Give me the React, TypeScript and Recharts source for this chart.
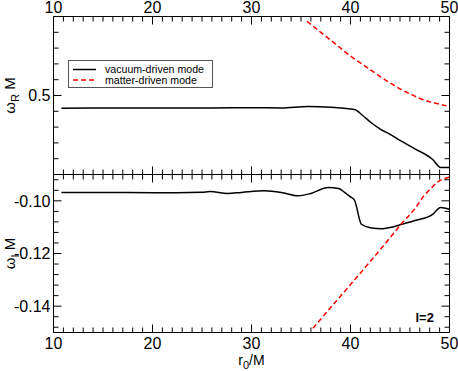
import { LineChart, Line, XAxis, YAxis, Label } from "recharts";

// r0/M axis
const rMajor = [10, 20, 30, 40, 50];
const rTicks = Array.from({ length: 41 }, (_, i) => 10 + i);

// omega_R M axis (top panel)
const wrMajor = [0.4, 0.5, 0.6];
const wrLabeled = [0.5];
const wrTicks = Array.from({ length: 11 }, (_, i) => +(0.4 + i * 0.02).toFixed(3));

// omega_I M axis (bottom panel)
const wiMajor = [-0.14, -0.12, -0.1];
const wiLabeled = [-0.14, -0.12, -0.1];
const wiTicks = Array.from({ length: 15 }, (_, i) => +(-0.148 + i * 0.004).toFixed(3));

// vacuum-driven mode, real part
const vacRealR = [10.8, 14, 18, 22, 26, 30, 33, 35.7, 38, 40.4, 41.2, 42, 43, 44, 45.1, 46.5, 48.3, 49.1, 50];
const vacRealW = [0.484, 0.4842, 0.4842, 0.4843, 0.4842, 0.4845, 0.4842, 0.4862, 0.4852, 0.4822, 0.475, 0.4665, 0.4575, 0.4508, 0.4425, 0.4325, 0.419, 0.409, 0.409];

// matter-driven mode, real part
const matRealR = [35.6, 37, 38.5, 40, 41.5, 43, 44.5, 46, 47.5, 49, 50];
const matRealW = [0.594, 0.58, 0.565, 0.55, 0.537, 0.524, 0.512, 0.502, 0.494, 0.489, 0.486];

// vacuum-driven mode, imaginary part
const vacImagR = [10.8, 15, 20, 25, 25.8, 27.6, 29, 31.3, 33, 34.7, 36, 37.75, 38.8, 39.4, 40, 40.4, 41.1, 42, 43.2, 44, 45.2, 46.5, 48.3, 49.1, 50];
const vacImagW = [-0.0968, -0.0968, -0.0969, -0.0967, -0.0965, -0.0972, -0.0968, -0.0962, -0.0968, -0.0981, -0.0972, -0.0949, -0.0953, -0.0968, -0.0985, -0.0997, -0.1089, -0.1102, -0.1106, -0.1101, -0.1089, -0.1075, -0.1051, -0.1025, -0.1032];

// matter-driven mode, imaginary part
const matImagR = [36.2, 38, 40, 42, 44, 45.1, 46.5, 47.4, 48.2, 48.75, 49.3, 50];
const matImagW = [-0.1484, -0.1405, -0.1318, -0.123, -0.114, -0.1089, -0.103, -0.0982, -0.095, -0.093, -0.0918, -0.091];

const zip = (xs: number[], ys: number[]) => xs.map((r, i) => ({ r, w: ys[i] }));
const vacReal = zip(vacRealR, vacRealW);
const matReal = zip(matRealR, matRealW);
const vacImag = zip(vacImagR, vacImagW);
const matImag = zip(matImagR, matImagW);

const FONT = "'Liberation Sans', Arial, Helvetica, sans-serif";
const has = (arr: number[], v: number) => arr.some((m) => Math.abs(m - v) < 1e-9);

type Side = "top" | "bottom" | "left" | "right";

function tickRenderer(side: Side, majors: number[], labeled: number[], fmt: (v: number) => string) {
  return (props: any) => {
    const { x, y, payload } = props;
    const v = payload.value;
    const len = has(majors, v) ? 8 : 5;
    let x2 = x, y2 = y, tx = x, ty = y, anchor = "middle", dy = "0";
    if (side === "top") { y2 = y + len; ty = y - 4; }
    if (side === "bottom") { y2 = y - len; ty = y + 16; }
    if (side === "left") { x2 = x + len; tx = x - 3; anchor = "end"; dy = "0.36em"; }
    if (side === "right") { x2 = x - len; }
    return (
      <g>
        <line x1={x} y1={y} x2={x2} y2={y2} stroke="#000" strokeWidth={1} />
        {has(labeled, v) && (
          <text x={tx} y={ty} dy={dy} textAnchor={anchor} fontSize={16} fontFamily={FONT} fill="#000">
            {fmt(v)}
          </text>
        )}
      </g>
    );
  };
}

const fmtInt = (v: number) => String(v);
const fmt1 = (v: number) => v.toFixed(1);
const fmt2 = (v: number) => v.toFixed(2);

const yTitle = (sub: string) => (props: any) => {
  const vb = props.viewBox;
  const cy = vb.y + vb.height / 2;
  return (
    <text transform={`translate(15, ${cy}) rotate(-90)`} textAnchor="middle" fontSize={15} fontFamily={FONT} fill="#000">
      ω<tspan dy="4" fontSize={11}>{sub}</tspan>
      <tspan dy="-4"> M</tspan>
    </text>
  );
};

const xTitle = (props: any) => {
  const vb = props.viewBox;
  return (
    <text x={vb.x + vb.width / 2} y={365} textAnchor="middle" fontSize={14} fontFamily={FONT} fill="#000">
      r<tspan dy="4" fontSize={11}>0</tspan>
      <tspan dy="-4">/M</tspan>
    </text>
  );
};

const lTag = (props: any) => {
  const vb = props.viewBox;
  return (
    <text x={vb.x - 34} y={vb.y + vb.height - 11} fontSize={13} fontWeight="bold" fontFamily={FONT} fill="#000">
      l=2
    </text>
  );
};

const axisCommon = {
  tickSize: 0,
  tickMargin: 0,
  interval: 0 as const,
  allowDataOverflow: true,
  axisLine: { stroke: "#000", strokeWidth: 1 },
};

function TopPanel() {
  return (
    <LineChart width={458} height={371} margin={{ top: 0, right: 0, bottom: 0, left: 0 }}>
      <XAxis xAxisId="t" orientation="top" type="number" dataKey="r" domain={[10, 50]} ticks={rTicks} height={16.5}
        tick={tickRenderer("top", rMajor, rMajor, fmtInt)} {...axisCommon} />
      <XAxis xAxisId="b" orientation="bottom" type="number" dataKey="r" domain={[10, 50]} ticks={rTicks} height={196.5}
        tick={tickRenderer("bottom", rMajor, [], fmtInt)} {...axisCommon} />
      <YAxis yAxisId="l" orientation="left" type="number" domain={[0.4, 0.6]} ticks={wrTicks} width={53.5}
        tick={tickRenderer("left", wrMajor, wrLabeled, fmt1)} {...axisCommon}>
        <Label content={yTitle("R")} />
      </YAxis>
      <YAxis yAxisId="r" orientation="right" type="number" domain={[0.4, 0.6]} ticks={wrTicks} width={8.5}
        tick={tickRenderer("right", wrMajor, [], fmt1)} {...axisCommon} />
      <Line xAxisId="b" yAxisId="l" data={vacReal} dataKey="w" type="monotone" stroke="#000" strokeWidth={1.5}
        dot={false} isAnimationActive={false} />
      <Line xAxisId="b" yAxisId="l" data={matReal} dataKey="w" type="monotone" stroke="#ff0000" strokeWidth={1.5}
        strokeDasharray="5 3" dot={false} isAnimationActive={false} />
    </LineChart>
  );
}

function BottomPanel() {
  return (
    <LineChart width={458} height={371} margin={{ top: 0, right: 0, bottom: 0, left: 0 }}>
      <XAxis xAxisId="t" orientation="top" type="number" dataKey="r" domain={[10, 50]} ticks={rTicks} height={174.5}
        tick={tickRenderer("top", rMajor, [], fmtInt)} {...axisCommon} />
      <XAxis xAxisId="b" orientation="bottom" type="number" dataKey="r" domain={[10, 50]} ticks={rTicks} height={38.5}
        tick={tickRenderer("bottom", rMajor, rMajor, fmtInt)} {...axisCommon}>
        <Label content={xTitle} />
      </XAxis>
      <YAxis yAxisId="l" orientation="left" type="number" domain={[-0.15, -0.09]} ticks={wiTicks} width={53.5}
        tick={tickRenderer("left", wiMajor, wiLabeled, fmt2)} {...axisCommon}>
        <Label content={yTitle("I")} />
      </YAxis>
      <YAxis yAxisId="r" orientation="right" type="number" domain={[-0.15, -0.09]} ticks={wiTicks} width={8.5}
        tick={tickRenderer("right", wiMajor, [], fmt2)} {...axisCommon}>
        <Label content={lTag} />
      </YAxis>
      <Line xAxisId="b" yAxisId="l" data={vacImag} dataKey="w" type="monotone" stroke="#000" strokeWidth={1.5}
        dot={false} isAnimationActive={false} />
      <Line xAxisId="b" yAxisId="l" data={matImag} dataKey="w" type="monotone" stroke="#ff0000" strokeWidth={1.5}
        strokeDasharray="5 3" dot={false} isAnimationActive={false} />
    </LineChart>
  );
}

function ModeLegend() {
  return (
    <div style={{ position: "absolute", left: 68, top: 60, width: 145, height: 28, boxSizing: "border-box",
      border: "1px solid #555", background: "#fff" }}>
      <svg width={143} height={26} style={{ display: "block" }}>
        <line x1={4} y1={8.5} x2={27} y2={8.5} stroke="#000" strokeWidth={1.5} />
        <line x1={4} y1={19} x2={27} y2={19} stroke="#ff0000" strokeWidth={1.5} strokeDasharray="5 3" />
        <text x={36} y={12} fontSize={10.6} fontFamily={FONT} fill="#000">vacuum-driven mode</text>
        <text x={36} y={23} fontSize={10.6} fontFamily={FONT} fill="#000">matter-driven mode</text>
      </svg>
    </div>
  );
}

export default function App() {
  return (
    <div style={{ position: "absolute", left: 0, top: 0, width: 458, height: 371, background: "#fff", fontFamily: FONT }}>
      <div style={{ position: "absolute", left: 0, top: 0 }}>
        <TopPanel />
      </div>
      <div style={{ position: "absolute", left: 0, top: 0 }}>
        <BottomPanel />
      </div>
      <ModeLegend />
    </div>
  );
}
